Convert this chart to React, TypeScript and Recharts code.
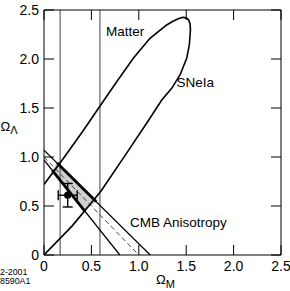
import React from 'react';
import { ComposedChart, XAxis, YAxis, Line, Area, Scatter, ErrorBar, ReferenceLine } from 'recharts';

// ---- data ----
const axisTicks = [0, 0.5, 1, 1.5, 2, 2.5];
const axisTickLabels = ['0', '0.5', '1.0', '1.5', '2.0', '2.5'];

// Matter constraint: vertical band limits in Omega_M
const matterBounds = [0.17, 0.59];

// SNeIa confidence contour (Omega_M, Omega_Lambda), visible part
const sneOmegaM = [0.0, 0.3, 0.6, 0.886, 1.1, 1.242, 1.347, 1.435, 1.505, 1.533, 1.545, 1.54, 1.525, 1.5, 1.465, 1.417, 1.36, 1.294, 1.118, 0.942, 0.767, 0.591, 0.4, 0.2, 0.0];
const sneOmegaL = [0.0, 0.3, 0.65, 1.06, 1.37, 1.582, 1.701, 1.837, 2.007, 2.143, 2.3, 2.36, 2.4, 2.42, 2.425, 2.41, 2.385, 2.347, 2.211, 2.007, 1.768, 1.52, 1.25, 0.98, 0.72];

// CMB anisotropy band edges
const cmbUpper = [{ x: 0, y: 1.07 }, { x: 1.12, y: 0 }];
const cmbLower = [{ x: 0, y: 0.97 }, { x: 0.8, y: 0 }];
// Flat universe line
const flatUniverse = [{ x: 0, y: 1.0 }, { x: 1.0, y: 0 }];

// Combined allowed region (shaded) and its thick edges
const overlapX = [0.0876, 0.138, 0.428, 0.55];
const overlapLow = [0.864, 0.803, 0.451, 0.545];
const overlapHigh = [0.864, 0.938, 0.661, 0.545];
const overlapUpperEdge = [{ x: 0.138, y: 0.938 }, { x: 0.55, y: 0.545 }];
const overlapLowerEdge = [{ x: 0.0876, y: 0.864 }, { x: 0.428, y: 0.451 }];

// Measurement point with error bars
const measurement = [{ x: 0.25, y: 0.61, ex: 0.1, ey: 0.12 }];

// ---- derived tables ----
const sneContour = sneOmegaM.map((m, i) => ({ x: m, y: sneOmegaL[i] }));
const overlapRegion = overlapX.map((m, i) => ({ x: m, r: [overlapLow[i], overlapHigh[i]] }));

const FONT = '"Liberation Sans", Arial, Helvetica, sans-serif';
const fmt = (v: number) => {
  const i = axisTicks.findIndex((t) => Math.abs(t - v) < 1e-9);
  return i >= 0 ? axisTickLabels[i] : String(v);
};
const blank = () => '';

const Dot = (props: any) => <circle cx={props.cx} cy={props.cy} r={3.6} fill="#000" />;

export default function App() {
  return (
    <div style={{ position: 'absolute', left: 0, top: 0, width: 290, height: 291, background: '#fff' }}>
      <ComposedChart width={290} height={291} margin={{ top: 0, right: 0, bottom: 0, left: 0 }}>
        <XAxis
          xAxisId="b"
          type="number"
          dataKey="x"
          domain={[0, 2.5]}
          ticks={axisTicks}
          interval={0}
          allowDataOverflow
          height={36}
          stroke="#000"
          tickSize={-10}
          tickMargin={16}
          tickFormatter={fmt}
          tick={{ fill: '#000', fontSize: 14, fontFamily: FONT }}
        />
        <XAxis
          xAxisId="t"
          orientation="top"
          type="number"
          dataKey="x"
          domain={[0, 2.5]}
          ticks={axisTicks}
          interval={0}
          allowDataOverflow
          height={10}
          stroke="#000"
          tickSize={-10}
          tickFormatter={blank}
        />
        <YAxis
          yAxisId="l"
          type="number"
          domain={[0, 2.5]}
          ticks={axisTicks}
          interval={0}
          allowDataOverflow
          width={44}
          stroke="#000"
          tickSize={-10}
          tickMargin={15}
          tickFormatter={fmt}
          tick={{ fill: '#000', fontSize: 14, fontFamily: FONT }}
        />
        <YAxis
          yAxisId="r"
          orientation="right"
          type="number"
          domain={[0, 2.5]}
          ticks={axisTicks}
          interval={0}
          allowDataOverflow
          width={9}
          stroke="#000"
          tickSize={-10}
          tickFormatter={blank}
        />

        <Area
          xAxisId="b"
          yAxisId="l"
          data={overlapRegion}
          dataKey="r"
          type="linear"
          stroke="none"
          fill="#cfcfcf"
          fillOpacity={1}
          isAnimationActive={false}
          dot={false}
          activeDot={false}
        />

        {matterBounds.map((m) => (
          <ReferenceLine key={m} xAxisId="b" yAxisId="l" x={m} stroke="#555" strokeWidth={1.1} />
        ))}

        <Line xAxisId="b" yAxisId="l" data={flatUniverse} dataKey="y" type="linear" stroke="#444" strokeWidth={1} strokeDasharray="5 3" dot={false} activeDot={false} isAnimationActive={false} />
        <Line xAxisId="b" yAxisId="l" data={cmbUpper} dataKey="y" type="linear" stroke="#000" strokeWidth={1.3} dot={false} activeDot={false} isAnimationActive={false} />
        <Line xAxisId="b" yAxisId="l" data={cmbLower} dataKey="y" type="linear" stroke="#000" strokeWidth={1.3} dot={false} activeDot={false} isAnimationActive={false} />
        <Line xAxisId="b" yAxisId="l" data={overlapUpperEdge} dataKey="y" type="linear" stroke="#000" strokeWidth={2.8} dot={false} activeDot={false} isAnimationActive={false} />
        <Line xAxisId="b" yAxisId="l" data={overlapLowerEdge} dataKey="y" type="linear" stroke="#000" strokeWidth={2.8} dot={false} activeDot={false} isAnimationActive={false} />
        <Line xAxisId="b" yAxisId="l" data={sneContour} dataKey="y" type="linear" stroke="#000" strokeWidth={1.6} dot={false} activeDot={false} isAnimationActive={false} />

        <Scatter xAxisId="b" yAxisId="l" data={measurement} dataKey="y" shape={Dot} isAnimationActive={false}>
          <ErrorBar dataKey="ex" direction="x" stroke="#000" strokeWidth={1.4} width={5} isAnimationActive={false} />
          <ErrorBar dataKey="ey" direction="y" stroke="#000" strokeWidth={1.4} width={5} isAnimationActive={false} />
        </Scatter>
      </ComposedChart>

      <svg width={290} height={291} style={{ position: 'absolute', left: 0, top: 0, pointerEvents: 'none' }} fontFamily={FONT}>
        <text x={106} y={35.5} fontSize={13.5} fill="#000">Matter</text>
        <text x={176.5} y={87.3} fontSize={13.5} fill="#000">SNeIa</text>
        <text x={130} y={227} fontSize={13.5} fill="#000">CMB Anisotropy</text>
        <text x={156} y={284} fontSize={13} fill="#000">Ω<tspan fontSize={11} dy={4}>M</tspan></text>
        <text x={0.5} y={131} fontSize={13} fill="#000">Ω<tspan fontSize={11} dy={3}>Λ</tspan></text>
        <text x={0} y={274.8} fontSize={8.8} fill="#000">2-2001</text>
        <text x={0} y={284.3} fontSize={8.8} fill="#000">8590A1</text>
      </svg>
    </div>
  );
}
